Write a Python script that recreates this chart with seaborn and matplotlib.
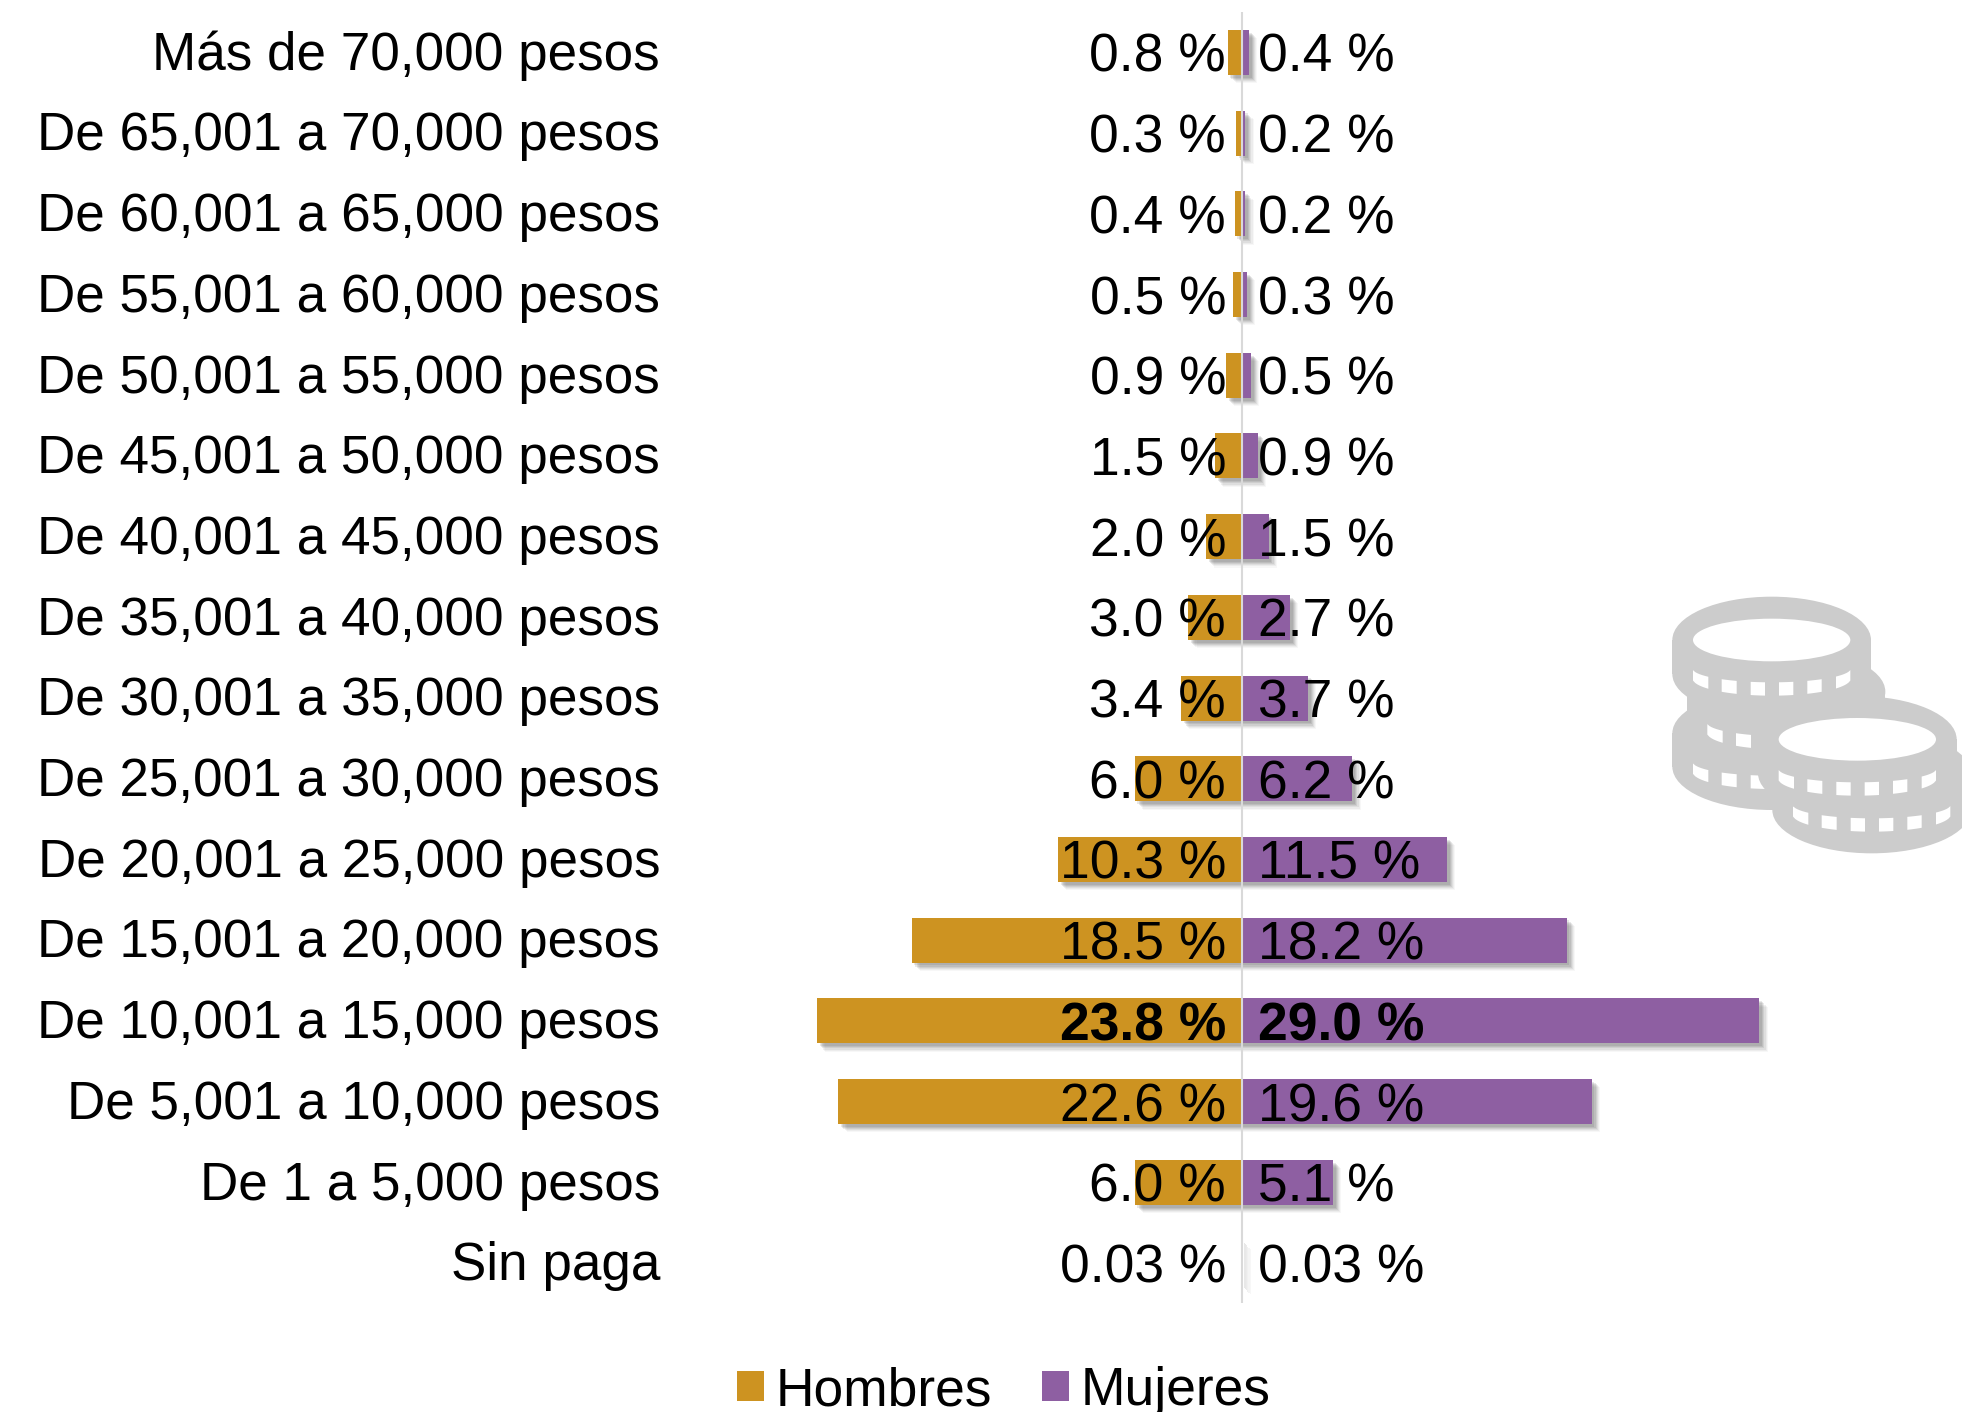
import numpy as np
import pandas as pd
import matplotlib
matplotlib.use("Agg")
import matplotlib.pyplot as plt
import matplotlib.patheffects as pe
from matplotlib.patches import Ellipse, Rectangle, Polygon
from matplotlib.transforms import ScaledTranslation
import seaborn as sns

categories = ["Más de 70,000 pesos", "De 65,001 a 70,000 pesos", "De 60,001 a 65,000 pesos",
              "De 55,001 a 60,000 pesos", "De 50,001 a 55,000 pesos", "De 45,001 a 50,000 pesos",
              "De 40,001 a 45,000 pesos", "De 35,001 a 40,000 pesos", "De 30,001 a 35,000 pesos",
              "De 25,001 a 30,000 pesos", "De 20,001 a 25,000 pesos", "De 15,001 a 20,000 pesos",
              "De 10,001 a 15,000 pesos", "De 5,001 a 10,000 pesos", "De 1 a 5,000 pesos", "Sin paga"]
hombres = [0.8, 0.3, 0.4, 0.5, 0.9, 1.5, 2.0, 3.0, 3.4, 6.0, 10.3, 18.5, 23.8, 22.6, 6.0, 0.03]
mujeres = [0.4, 0.2, 0.2, 0.3, 0.5, 0.9, 1.5, 2.7, 3.7, 6.2, 11.5, 18.2, 29.0, 19.6, 5.1, 0.03]
hombres_lab = ["0.8 %", "0.3 %", "0.4 %", "0.5 %", "0.9 %", "1.5 %", "2.0 %", "3.0 %", "3.4 %", "6.0 %",
               "10.3 %", "18.5 %", "23.8 %", "22.6 %", "6.0 %", "0.03 %"]
mujeres_lab = ["0.4 %", "0.2 %", "0.2 %", "0.3 %", "0.5 %", "0.9 %", "1.5 %", "2.7 %", "3.7 %", "6.2 %",
               "11.5 %", "18.2 %", "29.0 %", "19.6 %", "5.1 %", "0.03 %"]
C_H, C_M = "#CD9321", "#8E5FA2"

W, H = 1962, 1412
sns.set_theme(style="white")
plt.rcParams["font.family"] = ["Liberation Sans", "DejaVu Sans"]
FS = 38.4

fig = plt.figure(figsize=(W / 100, H / 100), dpi=100, facecolor="white")
AX_L = 680
ax = fig.add_axes([AX_L / W, 0, (W - AX_L) / W, 1])
ax.patch.set_alpha(0)

# icon layer in pixel coordinates
bg = fig.add_axes([0, 0, 1, 1], zorder=-1)
bg.set_xlim(0, W); bg.set_ylim(H, 0); bg.axis("off")
GR = "#CCCCCC"
def zx(v): return 1640 + v / 3
def zy(v): return 570 + v / 3
def coin(cx, top, bot, y0=None, hole=False, z=1):
    rx, ry = 298 / 3, 130 / 3
    X, T, B = zx(cx), zy(top), zy(bot)
    bg.add_patch(Ellipse((X, T), 2 * rx, 2 * ry, fc=GR, ec="none", zorder=z))
    bg.add_patch(Ellipse((X, B), 2 * rx, 2 * ry, fc=GR, ec="none", zorder=z))
    bg.add_patch(Rectangle((X - rx, T), 2 * rx, B - T, fc=GR, ec="none", zorder=z))
    if hole:
        bg.add_patch(Ellipse((X, T), 2 * 236 / 3, 2 * 64 / 3, fc="white", ec="none", zorder=z))
    if y0 is not None:
        for a, b in [(-236, -190), (-150, -105), (-63, -20), (22, 65), (107, 150), (193, 236)]:
            d = np.linspace(a, b, 8)
            s = np.sqrt(np.clip(1 - (d / 238) ** 2, 0, 1))
            up = y0 + 42 * s
            lo = y0 + 30 + 52 * s
            pts = list(zip(zx(cx + d), zy(up))) + list(zip(zx(cx + d[::-1]), zy(lo[::-1])))
            bg.add_patch(Polygon(pts, fc="white", ec="none", zorder=z))
coin(395, 490, 590, 575, z=1)
coin(438, 365, 470, 457, z=2)
coin(395, 210, 312, 295, hole=True, z=3)
coin(695, 610, 720, 703, z=4)
coin(652, 508, 610, 595, hole=True, z=5)

df = pd.DataFrame({
    "cat": categories * 2,
    "val": [-v for v in hombres] + mujeres,
    "sexo": ["Hombres"] * len(categories) + ["Mujeres"] * len(categories),
})
sns.barplot(data=df, x="val", y="cat", hue="sexo", order=categories, orient="h", dodge=False,
            palette={"Hombres": C_H, "Mujeres": C_M}, width=45 / 80.7, saturation=1,
            linewidth=0, ax=ax, legend=True)

effects = [pe.SimplePatchShadow(offset=(o, -o), shadow_rgbFace="#444444", alpha=a)
           for o, a in ((6.0, 0.04), (5.2, 0.06), (4.4, 0.08), (3.6, 0.10), (2.8, 0.12), (2.0, 0.12))] + [pe.Normal()]
for c in ax.containers:
    for p in c:
        p.set_path_effects(effects)

PX = 17.85
ZERO = 1241.8
ax.set_xlim((AX_L - ZERO) / PX, (W - ZERO) / PX)
ax.set_ylim((H - 52.5) / 80.7, -52.5 / 80.7)
ax.set_xlabel(""); ax.set_ylabel("")
ax.set_xticks([])
sns.despine(ax=ax, left=True, bottom=True)
ax.tick_params(axis="y", length=0, pad=(AX_L - 660) * 0.72, labelsize=38.2, labelcolor="black")
up = ScaledTranslation(0, 2.2 / 100, fig.dpi_scale_trans)
for t in ax.get_yticklabels():
    t.set_fontsize(38.2)
    t.set_transform(t.get_transform() + up)

ax.plot([0, 0], [(12 - 52.5) / 80.7, (1303 - 52.5) / 80.7], color="#D9D9D9", lw=1.5, zorder=6, solid_capstyle="butt")

for i, (a, b) in enumerate(zip(hombres_lab, mujeres_lab)):
    w = "bold" if i == 12 else "normal"
    yb = i + 19.5 / 80.7
    ax.text((1226 - ZERO) / PX, yb, a, ha="right", va="baseline", fontsize=FS, fontweight=w, color="black", zorder=7)
    ax.text((1258 - ZERO) / PX, yb, b, ha="left", va="baseline", fontsize=FS, fontweight=w, color="black", zorder=7)

leg = ax.legend(loc="lower left", bbox_to_anchor=((737 - AX_L) / (W - AX_L), -4 / H), ncol=2, frameon=False,
                fontsize=FS, handlelength=0.5, handleheight=0.5, handletextpad=0.22, columnspacing=0.94,
                borderpad=0, borderaxespad=0, title=None)
for h in leg.get_patches():
    h.set_path_effects([])
for t in leg.get_texts():
    t.set_color("black")
fig.savefig("out.png", dpi=100)
